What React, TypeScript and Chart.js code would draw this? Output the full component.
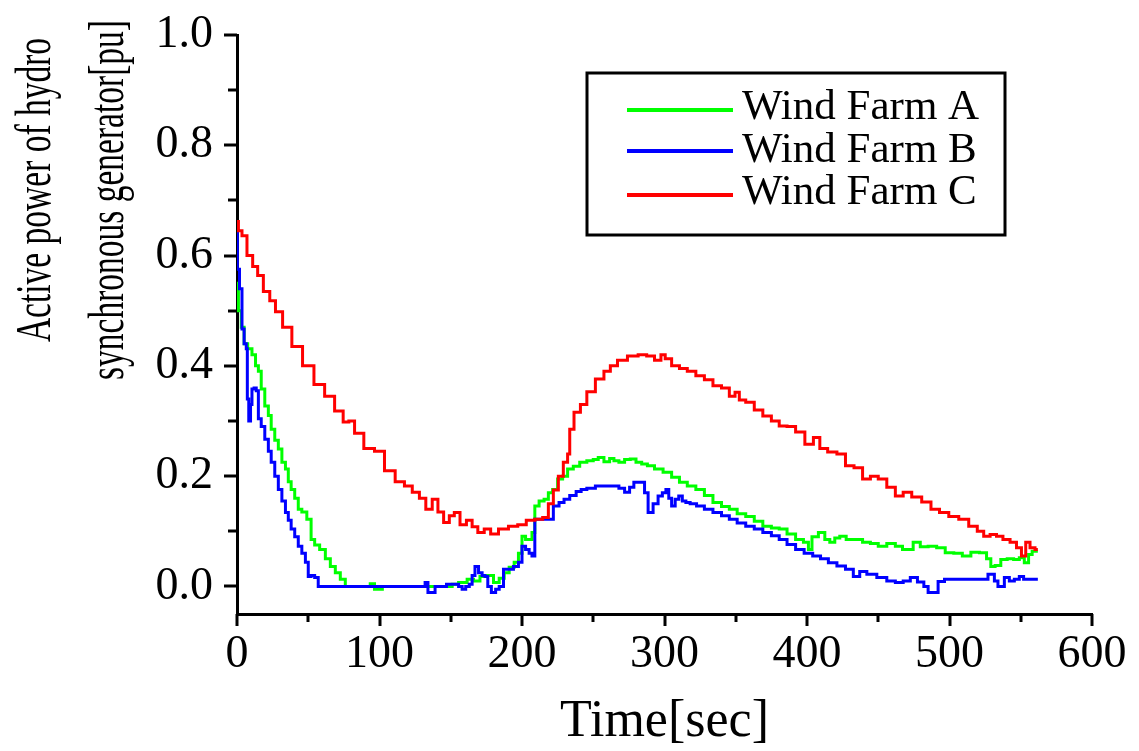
import React, { useEffect, useRef } from "react";
import { Chart, registerables } from "chart.js";

Chart.register(...registerables);

const FONT = '"Liberation Serif", "Times New Roman", Times, serif';

// Wind Farm A (green)
const tA = [0, 2, 4, 6, 9, 12, 14, 16, 18, 21, 23, 25, 28, 30, 33, 35, 37, 39, 42, 44, 47, 51, 53, 56, 60, 64, 67, 71, 74, 78, 92, 95, 98, 101, 103, 150, 152, 159, 164, 168, 173, 178, 182, 186, 189, 193, 196, 199, 201, 204, 206, 208, 210, 214, 217, 220, 223, 227, 230, 234, 238, 243, 248, 252, 255, 260, 263, 266, 270, 274, 278, 282, 286, 290, 296, 302, 308, 313, 319, 325, 331, 337, 343, 348, 354, 360, 366, 372, 378, 383, 389, 395, 400, 402, 405, 411, 414, 418, 421, 425, 430, 436, 442, 447, 453, 459, 465, 469, 472, 477, 482, 488, 494, 500, 506, 512, 518, 524, 528, 530, 534, 538, 543, 547, 551, 554, 557, 559, 562];
const pA = [0.55, 0.5, 0.47, 0.44, 0.431, 0.42, 0.4, 0.39, 0.358, 0.327, 0.31, 0.285, 0.265, 0.249, 0.225, 0.213, 0.19, 0.176, 0.16, 0.14, 0.135, 0.122, 0.085, 0.075, 0.067, 0.05, 0.036, 0.025, 0.013, 0.0, 0.0, 0.005, -0.005, -0.005, 0.0, 0.0, 0.004, 0.007, 0.013, 0.01, 0.018, 0.02, 0.007, 0.015, 0.025, 0.035, 0.044, 0.06, 0.091, 0.085, 0.085, 0.098, 0.146, 0.155, 0.158, 0.17, 0.176, 0.195, 0.2, 0.213, 0.218, 0.225, 0.228, 0.23, 0.234, 0.226, 0.232, 0.228, 0.225, 0.23, 0.231, 0.225, 0.222, 0.219, 0.213, 0.207, 0.198, 0.189, 0.182, 0.176, 0.165, 0.152, 0.145, 0.14, 0.132, 0.127, 0.118, 0.109, 0.106, 0.104, 0.095, 0.085, 0.08, 0.067, 0.09, 0.098, 0.085, 0.08, 0.088, 0.091, 0.085, 0.085, 0.08, 0.078, 0.073, 0.078, 0.073, 0.067, 0.067, 0.08, 0.072, 0.073, 0.07, 0.061, 0.06, 0.055, 0.062, 0.061, 0.05, 0.036, 0.038, 0.049, 0.05, 0.049, 0.052, 0.043, 0.058, 0.064, 0.064];

// Wind Farm B (blue)
const tB = [0, 0.5, 3, 4, 6, 7, 7.5, 9, 10, 11, 13, 14, 16, 18, 21, 23, 25, 28, 30, 33, 35, 37, 39, 42, 44, 47, 49, 51, 53, 56, 58, 131, 133, 135, 138, 140, 154, 157, 159, 162, 164, 166, 168, 171, 173, 175, 177, 180, 183, 185, 189, 192, 196, 199, 201, 204, 206, 208, 210, 215, 220, 224, 228, 231, 236, 240, 243, 248, 255, 260, 266, 270, 274, 277, 280, 285, 287, 290, 294, 297, 300, 302, 304, 306, 309, 311, 314, 316, 320, 325, 331, 337, 343, 348, 354, 360, 366, 372, 378, 383, 389, 395, 401, 407, 412, 418, 424, 430, 435, 439, 445, 453, 459, 465, 470, 475, 480, 484, 486, 491, 493, 500, 524, 530, 533, 535, 537, 540, 544, 547, 551, 553, 556, 562];
const pB = [0.65, 0.575, 0.54, 0.467, 0.44, 0.431, 0.34, 0.3, 0.33, 0.358, 0.36, 0.355, 0.304, 0.29, 0.267, 0.245, 0.225, 0.2, 0.176, 0.155, 0.134, 0.12, 0.104, 0.09, 0.073, 0.06, 0.044, 0.018, 0.02, 0.016, 0.0, 0.0, 0.007, -0.011, -0.011, 0.0, 0.004, 0.0, -0.005, 0.0, 0.004, 0.02, 0.036, 0.025, 0.02, 0.018, 0.0, -0.011, -0.005, 0.0, 0.031, 0.031, 0.036, 0.044, 0.073, 0.067, 0.06, 0.055, 0.122, 0.122, 0.122, 0.146, 0.152, 0.158, 0.165, 0.172, 0.176, 0.178, 0.182, 0.182, 0.182, 0.178, 0.171, 0.18, 0.189, 0.189, 0.17, 0.134, 0.15, 0.164, 0.17, 0.176, 0.16, 0.146, 0.158, 0.164, 0.155, 0.152, 0.15, 0.146, 0.14, 0.134, 0.128, 0.122, 0.115, 0.109, 0.104, 0.098, 0.092, 0.085, 0.076, 0.067, 0.06, 0.055, 0.05, 0.043, 0.037, 0.031, 0.018, 0.027, 0.022, 0.016, 0.01, 0.007, 0.01, 0.016, 0.008, 0.0, -0.011, -0.011, 0.009, 0.013, 0.013, 0.022, 0.01, 0.0, 0.0, 0.016, 0.01, 0.013, 0.018, 0.013, 0.013, 0.013];

// Wind Farm C (red)
const tC = [0, 2, 5, 9, 13, 16, 21, 25, 29, 35, 42, 50, 58, 65, 72, 77, 80, 85, 93, 100, 107, 115, 120, 126, 130, 135, 139, 143, 147, 151, 154, 159, 163, 167, 171, 176, 180, 187, 194, 200, 206, 212, 217, 220, 224, 227, 231, 233, 234, 239, 243, 248, 255, 260, 264, 270, 278, 285, 290, 296, 299, 302, 308, 313, 319, 325, 331, 337, 343, 348, 351, 354, 360, 366, 372, 378, 383, 389, 395, 402, 407, 411, 418, 424, 430, 436, 442, 447, 453, 459, 465, 470, 477, 484, 490, 496, 503, 510, 517, 522, 526, 531, 535, 540, 545, 549, 552, 555, 558, 562];
const pC = [0.662, 0.645, 0.636, 0.6, 0.58, 0.564, 0.535, 0.518, 0.498, 0.47, 0.435, 0.4, 0.366, 0.345, 0.318, 0.298, 0.3, 0.278, 0.25, 0.245, 0.21, 0.19, 0.182, 0.171, 0.16, 0.14, 0.158, 0.135, 0.116, 0.128, 0.134, 0.112, 0.12, 0.108, 0.098, 0.104, 0.095, 0.104, 0.109, 0.112, 0.12, 0.122, 0.125, 0.15, 0.175, 0.2, 0.225, 0.24, 0.285, 0.316, 0.33, 0.353, 0.376, 0.39, 0.4, 0.41, 0.418, 0.42, 0.418, 0.41, 0.42, 0.413, 0.4, 0.395, 0.39, 0.382, 0.375, 0.364, 0.36, 0.345, 0.352, 0.338, 0.334, 0.32, 0.309, 0.3, 0.291, 0.29, 0.28, 0.258, 0.27, 0.25, 0.244, 0.24, 0.219, 0.215, 0.195, 0.2, 0.195, 0.18, 0.164, 0.171, 0.162, 0.153, 0.14, 0.134, 0.127, 0.122, 0.109, 0.1, 0.091, 0.094, 0.091, 0.085, 0.08, 0.07, 0.055, 0.08, 0.07, 0.067];

const seriesNames = ["Wind Farm A", "Wind Farm B", "Wind Farm C"];
const seriesColors = ["#00ff00", "#0000ff", "#ff0000"];
const xTickValues = [0, 100, 200, 300, 400, 500, 600];
const yTickValues = [0, 0.2, 0.4, 0.6, 0.8, 1.0];
const xMinorValues = [50, 150, 250, 350, 450, 550];
const yMinorValues = [0.1, 0.3, 0.5, 0.7, 0.9];
const yTitleLines = ["Active power of hydro", "synchronous generator[pu]"];

const decor = {
  id: "decor",
  afterDraw(chart: any) {
    const ctx = chart.ctx;
    const xs = chart.scales.x;
    const ys = chart.scales.y;
    const area = chart.chartArea;
    ctx.save();
    ctx.strokeStyle = "#000";
    ctx.lineWidth = 3;
    ctx.lineCap = "butt";
    const yt = (v: number, len: number) => {
      const py = Math.round(ys.getPixelForValue(v));
      ctx.beginPath();
      ctx.moveTo(area.left, py);
      ctx.lineTo(area.left - len, py);
      ctx.stroke();
    };
    yTickValues.forEach((v) => yt(v, 13));
    yMinorValues.forEach((v) => yt(v, 9));
    const xt = (v: number, len: number) => {
      const px = Math.round(xs.getPixelForValue(v));
      ctx.beginPath();
      ctx.moveTo(px, area.bottom);
      ctx.lineTo(px, area.bottom + len);
      ctx.stroke();
    };
    xTickValues.forEach((v) => xt(v, 12));
    xMinorValues.forEach((v) => xt(v, 8));

    // y-axis title (condensed, two lines)
    ctx.fillStyle = "#000";
    ctx.font = `50px ${FONT}`;
    ctx.textAlign = "center";
    ctx.textBaseline = "alphabetic";
    const pos = [
      [50, 190],
      [123, 200],
    ];
    yTitleLines.forEach((line, i) => {
      ctx.save();
      ctx.translate(pos[i][0], pos[i][1]);
      ctx.rotate(-Math.PI / 2);
      ctx.scale(0.67, 1);
      ctx.fillText(line, 0, 0);
      ctx.restore();
    });

    // legend
    const bx = 587, by = 73, bw = 418, bh = 162;
    ctx.lineWidth = 3;
    ctx.strokeStyle = "#000";
    ctx.strokeRect(bx, by, bw, bh);
    const lineYs = [110, 151, 195];
    const baseYs = [119, 162, 204];
    ctx.font = `43px ${FONT}`;
    ctx.textAlign = "left";
    seriesNames.forEach((name, i) => {
      ctx.strokeStyle = seriesColors[i];
      ctx.lineWidth = 4;
      ctx.beginPath();
      ctx.moveTo(627, lineYs[i]);
      ctx.lineTo(733, lineYs[i]);
      ctx.stroke();
      ctx.fillStyle = "#000";
      ctx.fillText(name, 742, baseYs[i]);
    });
    ctx.restore();
  },
};

export default function App() {
  const ref = useRef<HTMLCanvasElement | null>(null);
  useEffect(() => {
    if (!ref.current) return;
    let chart: any = null;
    let cancelled = false;
    const build = () => {
      if (cancelled || !ref.current) return;
      const mk = (t: number[], p: number[]) => t.map((x, i) => ({ x, y: p[i] }));
      const series = [mk(tA, pA), mk(tB, pB), mk(tC, pC)];
      chart = new Chart(ref.current, {
        type: "line",
        data: {
          datasets: series.map((d, i) => ({
            label: seriesNames[i],
            data: d,
            borderColor: seriesColors[i],
            backgroundColor: seriesColors[i],
            borderWidth: 3,
            pointRadius: 0,
            tension: 0,
            stepped: "middle",
            fill: false,
            order: 3 - i,
          })),
        },
        options: {
          animation: false,
          responsive: false,
          devicePixelRatio: 1,
          layout: { padding: { top: 35, right: 47, left: 0, bottom: 0 } },
          plugins: {
            legend: { display: false },
            tooltip: { enabled: false },
          },
          scales: {
            x: {
              type: "linear",
              min: 0,
              max: 600,
              grid: { display: false, drawTicks: false },
              border: { display: true, color: "#000", width: 3 },
              ticks: {
                color: "#000",
                font: { family: FONT, size: 46 },
                padding: 13,
                maxRotation: 0,
                autoSkip: false,
              },
              title: {
                display: true,
                text: "Time[sec]",
                color: "#000",
                font: { family: FONT, size: 52, lineHeight: 1 },
                padding: { top: 0, bottom: 3 },
              },
              afterBuildTicks: (s: any) => {
                s.ticks = xTickValues.map((v) => ({ value: v }));
              },
              afterFit: (s: any) => {
                s.height = 137;
                s.paddingLeft = 0;
                s.paddingRight = 0;
              },
            },
            y: {
              type: "linear",
              min: -0.05,
              max: 1.0,
              grid: { display: false, drawTicks: false },
              border: { display: true, color: "#000", width: 3 },
              ticks: {
                color: "#000",
                font: { family: FONT, size: 46 },
                padding: 24,
                autoSkip: false,
                callback: (v: any) => Number(v).toFixed(1),
              },
              afterBuildTicks: (s: any) => {
                s.ticks = yTickValues.map((v) => ({ value: v }));
              },
              afterFit: (s: any) => {
                s.width = 237;
                s.paddingTop = 0;
                s.paddingBottom = 0;
              },
            },
          },
        },
        plugins: [decor],
      });
    };
    const fontsApi = (document as any).fonts;
    if (fontsApi && fontsApi.load) {
      fontsApi
        .load(`50px ${FONT}`)
        .catch(() => null)
        .then(build);
    } else {
      build();
    }
    return () => {
      cancelled = true;
      if (chart) chart.destroy();
    };
  }, []);
  return (
    <div style={{ position: "absolute", left: 0, top: 0, width: 1139, height: 751, background: "#fff" }}>
      <canvas ref={ref} width={1139} height={751} style={{ display: "block" }} />
    </div>
  );
}
